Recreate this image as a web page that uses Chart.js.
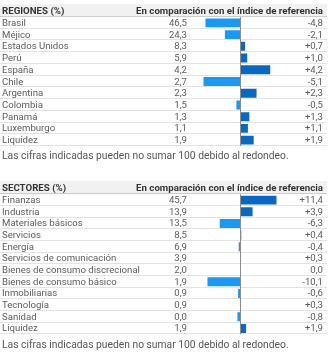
<!DOCTYPE html>
<html>
<head>
<meta charset="utf-8">
<script src="https://cdn.jsdelivr.net/npm/chart.js@4.4.1/dist/chart.umd.min.js"></script>
<style>
  body { margin: 0; background: #fff; font-family: Roboto, "Open Sans", sans-serif; }
  .block { position: relative; width: 331px; }
  .block canvas { position: absolute; left: 0; top: 0; }
  .txt { position: absolute; white-space: nowrap; font-size: 9.6px; color: #5c5c5c; line-height: 12px; }
  .hdr { font-weight: 700; color: #333; font-size: 9.7px; }
  .foot { font-size: 10.3px; color: #555; }
</style>
</head>
<body>
<div id="regiones" class="block" style="height:166px"></div>
<div id="sectores" class="block" style="height:190px"></div>

<script>
// Regiones
const regionLabels = ['Brasil', 'Méjico', 'Estados Unidos', 'Perú', 'España', 'Chile',
  'Argentina', 'Colombia', 'Panamá', 'Luxemburgo', 'Liquidez'];
const regionWeights = [46.5, 24.3, 8.3, 5.9, 4.2, 2.7, 2.3, 1.5, 1.3, 1.1, 1.9];
const regionDiffs = [-4.8, -2.1, 0.7, 1.0, 4.2, -5.1, 2.3, -0.5, 1.3, 1.1, 1.9];

// Sectores
const sectorLabels = ['Finanzas', 'Industria', 'Materiales básicos', 'Servicios', 'Energía',
  'Servicios de comunicación', 'Bienes de consumo discrecional', 'Bienes de consumo básico',
  'Inmobiliarias', 'Tecnología', 'Sanidad', 'Liquidez'];
const sectorWeights = [45.7, 13.9, 13.5, 8.5, 6.9, 3.9, 2.0, 1.9, 0.9, 0.9, 0.0, 1.9];
const sectorDiffs = [11.4, 3.9, -6.3, 0.4, -0.4, 0.3, 0.0, -10.1, -0.6, 0.3, -0.8, 1.9];

const compareTitle = 'En comparación con el índice de referencia';
const footNote = 'Las cifras indicadas pueden no sumar 100 debido al redondeo.';

const POS_COLOR = '#0b68c1';
const NEG_COLOR = '#1b98f0';
const TABLE_W = 327;

function fmt(v) {
  return v.toFixed(1).replace('.', ',');
}
function fmtDiff(v) {
  if (v > 0) return '+' + fmt(v);
  return fmt(v);
}

// header band, row lines and the zero line
const tableLines = {
  id: 'tableLines',
  beforeDatasetsDraw(chart, args, opts) {
    const { ctx, chartArea, scales: { y } } = chart;
    const n = chart.data.labels.length;
    const h = (chartArea.bottom - chartArea.top) / n;
    ctx.save();
    ctx.fillStyle = '#f1f1f1';
    ctx.fillRect(0, opts.headTop, TABLE_W, chartArea.top - opts.headTop);
    ctx.fillStyle = '#cdcdcd';
    ctx.fillRect(0, Math.round(chartArea.top) - 1, TABLE_W, 1);
    ctx.fillStyle = '#e3e3e3';
    for (let i = 0; i < n; i++) {
      const yb = Math.round(y.getPixelForValue(i) + h / 2);
      ctx.fillRect(0, yb - 1, TABLE_W, 1);
    }
    ctx.restore();
  },
  afterDatasetsDraw(chart) {
    const { ctx, chartArea, scales: { x } } = chart;
    const x0 = Math.round(x.getPixelForValue(0)) + 0.5;
    ctx.save();
    ctx.strokeStyle = '#8c8c8c';
    ctx.lineWidth = 1;
    ctx.beginPath();
    ctx.moveTo(x0, chartArea.top);
    ctx.lineTo(x0, chartArea.bottom);
    ctx.stroke();
    ctx.restore();
  }
};

function addText(parent, text, cls, left, right, centerY) {
  const d = document.createElement('div');
  d.className = 'txt ' + (cls || '');
  d.textContent = text;
  d.style.top = (centerY - 6) + 'px';
  if (left != null) d.style.left = left + 'px';
  if (right != null) d.style.right = right + 'px';
  parent.appendChild(d);
}

function createTable(containerId, title, labels, weights, diffs, layout) {
  const box = document.getElementById(containerId);
  const canvas = document.createElement('canvas');
  canvas.width = 331;
  canvas.height = layout.height;
  box.appendChild(canvas);

  const maxAbs = Math.max(...diffs.map(v => Math.abs(v)));

  const chart = new Chart(canvas, {
    type: 'bar',
    data: {
      labels: labels,
      datasets: [{
        data: diffs,
        backgroundColor: diffs.map(v => v < 0 ? NEG_COLOR : POS_COLOR),
        barPercentage: 0.76,
        categoryPercentage: 1
      }]
    },
    options: {
      indexAxis: 'y',
      responsive: false,
      animation: false,
      events: [],
      layout: {
        padding: {
          left: layout.barLeft,
          right: 331 - layout.barRight,
          top: layout.rowsTop,
          bottom: layout.height - layout.rowsBottom
        }
      },
      plugins: {
        legend: { display: false },
        tooltip: { enabled: false },
        tableLines: { headTop: layout.headTop }
      },
      scales: {
        x: { display: false, min: -maxAbs, max: maxAbs },
        y: { display: false }
      }
    },
    plugins: [tableLines]
  });

  // texts placed on the rows of the y scale
  const area = chart.chartArea;
  const headMid = (layout.headTop + area.top) / 2;
  addText(box, title, 'hdr', 2, null, headMid);
  addText(box, compareTitle, 'hdr', null, 331 - layout.diffRight, headMid);
  labels.forEach((lab, i) => {
    const cy = chart.scales.y.getPixelForValue(i);
    addText(box, lab, '', 2, null, cy);
    addText(box, fmt(weights[i]), '', null, 331 - layout.weightRight, cy);
    addText(box, fmtDiff(diffs[i]), '', null, 331 - layout.diffRight, cy);
  });
  addText(box, footNote, 'foot', 2, null, layout.footY);
  return chart;
}

createTable('regiones', 'REGIONES (%)', regionLabels, regionWeights, regionDiffs, {
  height: 166, headTop: 4, rowsTop: 17, rowsBottom: 146, footY: 156,
  barLeft: 203.3, barRight: 276.7, weightRight: 187, diffRight: 323
});

createTable('sectores', 'SECTORES (%)', sectorLabels, sectorWeights, sectorDiffs, {
  height: 190, headTop: 15, rowsTop: 28.3, rowsBottom: 168.3, footY: 179,
  barLeft: 203.3, barRight: 276.7, weightRight: 187, diffRight: 323
});
</script>
</body>
</html>
